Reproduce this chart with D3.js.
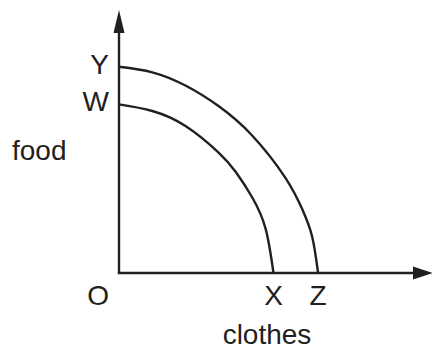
<!DOCTYPE html>
<html>
<head>
<meta charset="utf-8">
<title>Production possibilities</title>
<script src="https://d3js.org/d3.v7.min.js"></script>
<style>
  html, body { margin: 0; padding: 0; background: #fff; }
  svg { display: block; }
  text { font-family: "Liberation Sans", Arial, sans-serif; font-size: 28px; fill: #231f20; }
</style>
</head>
<body>
<div id="chart"></div>
<script>
// curve points (clothes, food), axis units 0..100
var innerCurve = [[0, 64.1], [10.6, 61.6], [21.3, 55.8], [31.8, 45.7], [37.2, 38.4], [42.4, 28.8], [46.7, 16.8], [49.2, 0]];
var outerCurve = [[0, 78.4], [10.6, 76.3], [21.3, 71.2], [31.8, 63.4], [42.4, 52.3], [53.0, 36.2], [58.3, 24.4], [61.5, 13.9], [63.4, 0]];
var yMarks = [{label: "Y", value: 78.4}, {label: "W", value: 64.1}];
var xMarks = [{label: "X", value: 49.2}, {label: "Z", value: 63.4}];
var xTitle = "clothes";
var yTitle = "food";
var originLabel = "O";

var width = 432, height = 349;
var ink = "#231f20";

var svg = d3.select("#chart").append("svg")
    .attr("width", width)
    .attr("height", height);

var x = d3.scaleLinear().domain([0, 100]).range([119, 433]);
var y = d3.scaleLinear().domain([0, 100]).range([273, 10]);

// axes
svg.append("line")
    .attr("x1", x(0)).attr("y1", y(0))
    .attr("x2", x(0)).attr("y2", y(100) + 20)
    .attr("stroke", ink).attr("stroke-width", 2.4);
svg.append("line")
    .attr("x1", x(0) - 1.2).attr("y1", y(0))
    .attr("x2", x(100) - 18).attr("y2", y(0))
    .attr("stroke", ink).attr("stroke-width", 2.4);

// arrow heads
svg.append("path")
    .attr("d", "M" + x(0) + "," + y(100) + "L" + (x(0) + 5.5) + "," + (y(100) + 23) +
        "L" + (x(0) - 5.5) + "," + (y(100) + 23) + "Z")
    .attr("fill", ink);
svg.append("path")
    .attr("d", "M" + x(100) + "," + y(0) + "L" + (x(100) - 20) + "," + (y(0) - 6.5) +
        "L" + (x(100) - 20) + "," + (y(0) + 6.5) + "Z")
    .attr("fill", ink);

// frontiers
var line = d3.line()
    .x(function(d) { return x(d[0]); })
    .y(function(d) { return y(d[1]); })
    .curve(d3.curveNatural);

svg.selectAll("path.frontier")
    .data([innerCurve, outerCurve])
    .enter()
    .append("path")
    .attr("class", "frontier")
    .attr("d", line)
    .attr("fill", "none")
    .attr("stroke", ink)
    .attr("stroke-width", 2.4);

// labels
svg.selectAll("text.ylab")
    .data(yMarks)
    .enter()
    .append("text")
    .attr("class", "ylab")
    .attr("x", x(0) - 10)
    .attr("y", function(d) { return y(d.value) + 7; })
    .attr("text-anchor", "end")
    .text(function(d) { return d.label; });

svg.selectAll("text.xlab")
    .data(xMarks)
    .enter()
    .append("text")
    .attr("class", "xlab")
    .attr("x", function(d) { return x(d.value); })
    .attr("y", y(0) + 32)
    .attr("text-anchor", "middle")
    .text(function(d) { return d.label; });

svg.append("text")
    .attr("x", x(0) - 10)
    .attr("y", y(0) + 32)
    .attr("text-anchor", "end")
    .text(originLabel);

svg.append("text")
    .attr("x", 12)
    .attr("y", 160)
    .text(yTitle);

svg.append("text")
    .attr("x", 267)
    .attr("y", 344)
    .attr("text-anchor", "middle")
    .text(xTitle);
</script>
</body>
</html>
